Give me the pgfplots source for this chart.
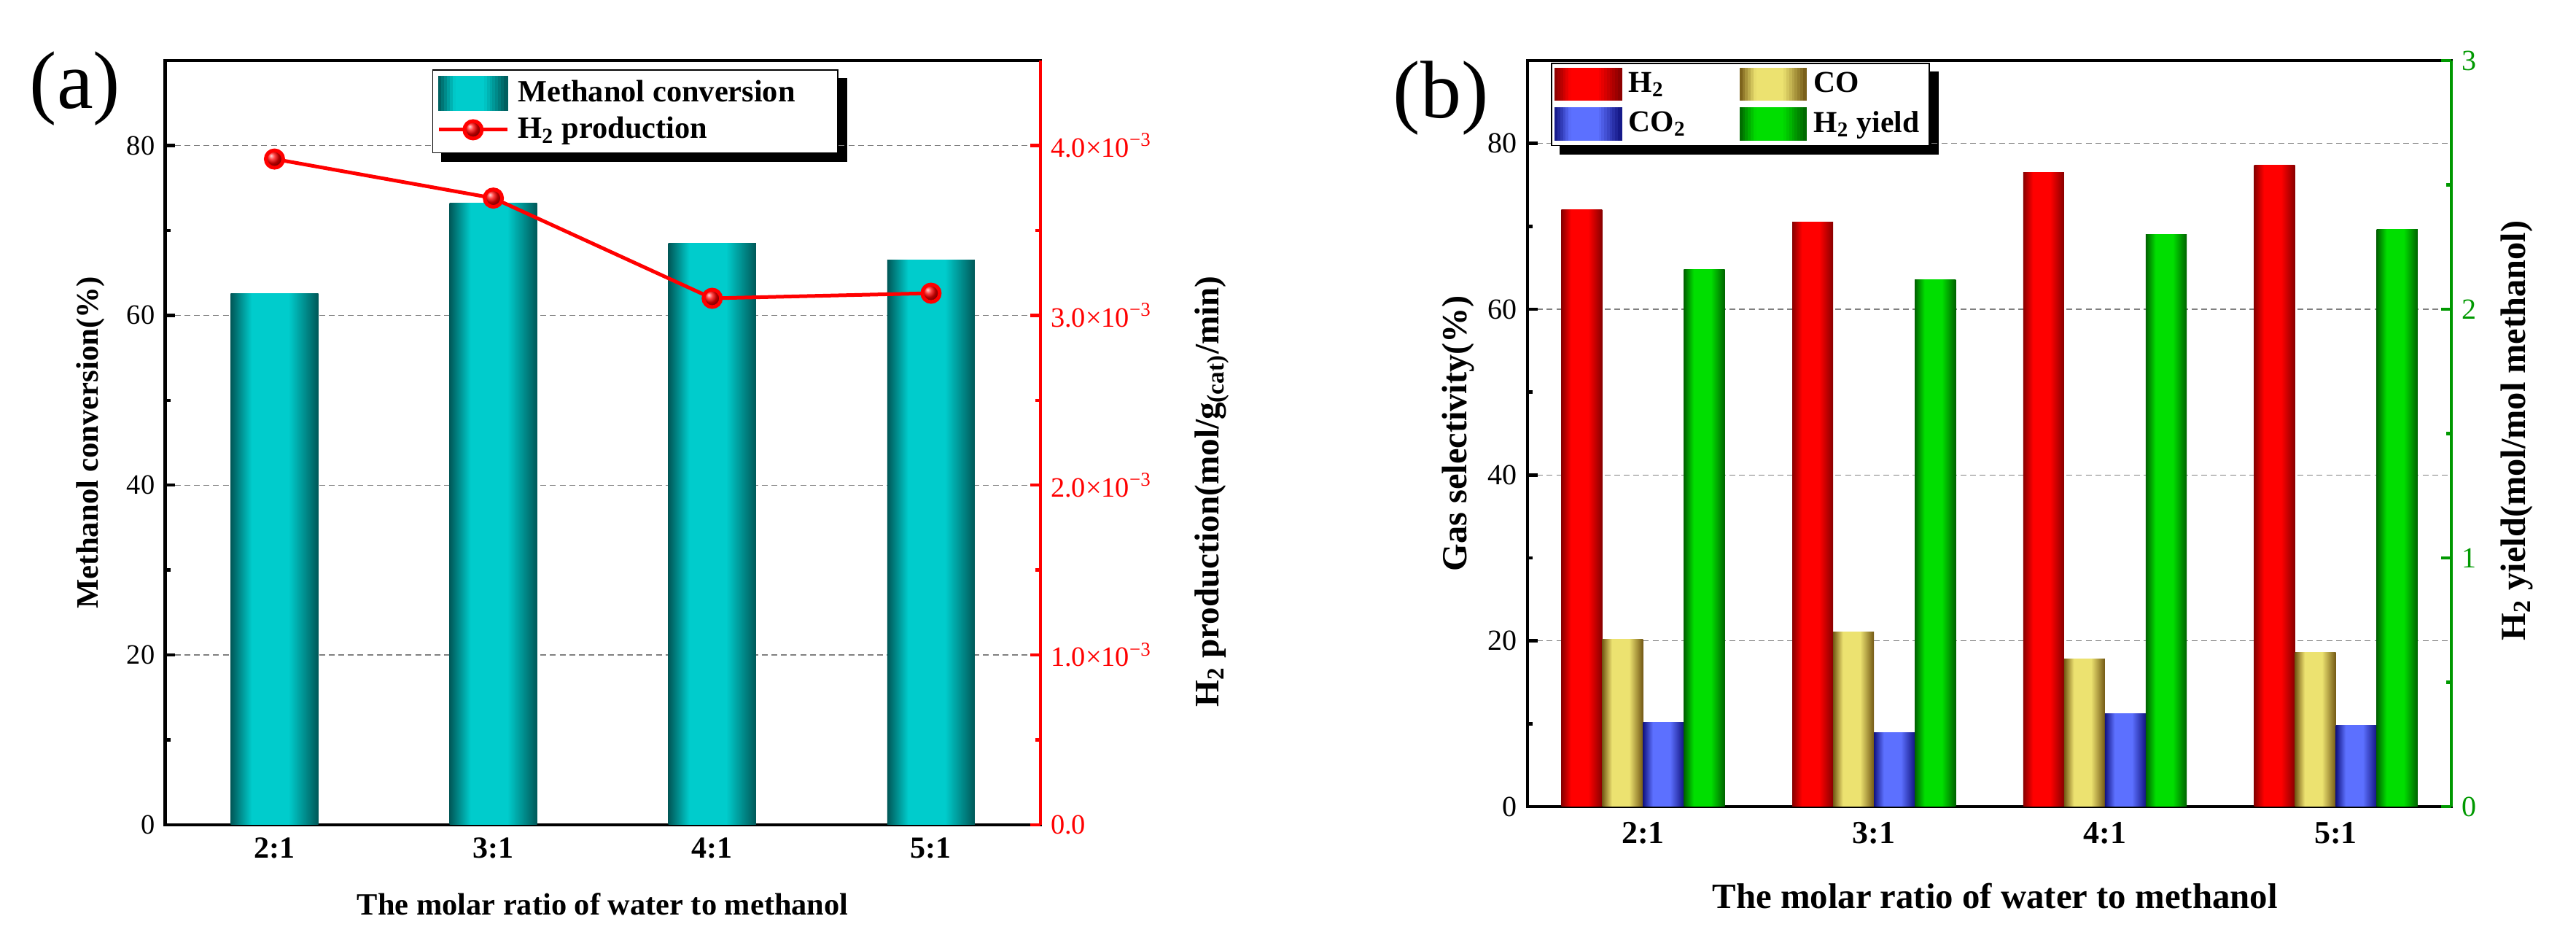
\documentclass[border=0pt]{standalone}
\usepackage{fontspec}
\setmainfont{Liberation Serif}
\usepackage{pgfplots}
\pgfplotsset{compat=1.18}

\pgfdeclarelayer{shadowlayer}
\pgfsetlayers{shadowlayer,main}

\definecolor{tealD}{RGB}{0,88,88}
\definecolor{tealL}{RGB}{0,204,204}
\definecolor{redD}{RGB}{135,0,0}
\definecolor{redL}{RGB}{255,0,0}
\definecolor{yelD}{RGB}{115,88,20}
\definecolor{yelL}{RGB}{236,226,112}
\definecolor{bluD}{RGB}{18,20,130}
\definecolor{bluL}{RGB}{92,112,255}
\definecolor{grnD}{RGB}{0,98,0}
\definecolor{grnL}{RGB}{0,222,0}
\definecolor{axgreen}{RGB}{0,153,0}

\pgfdeclarehorizontalshading{shTeal}{100bp}{color(0bp)=(tealD); color(25bp)=(tealD); color(37bp)=(tealL); color(58bp)=(tealL); color(75bp)=(tealD); color(100bp)=(tealD)}
\pgfdeclarehorizontalshading{shRed}{100bp}{color(0bp)=(redD); color(25bp)=(redD); color(37bp)=(redL); color(58bp)=(redL); color(75bp)=(redD); color(100bp)=(redD)}
\pgfdeclarehorizontalshading{shYel}{100bp}{color(0bp)=(yelD); color(25bp)=(yelD); color(37bp)=(yelL); color(58bp)=(yelL); color(75bp)=(yelD); color(100bp)=(yelD)}
\pgfdeclarehorizontalshading{shBlu}{100bp}{color(0bp)=(bluD); color(25bp)=(bluD); color(37bp)=(bluL); color(58bp)=(bluL); color(75bp)=(bluD); color(100bp)=(bluD)}
\pgfdeclarehorizontalshading{shGrn}{100bp}{color(0bp)=(grnD); color(25bp)=(grnD); color(37bp)=(grnL); color(58bp)=(grnL); color(75bp)=(grnD); color(100bp)=(grnD)}

\newcommand{\fsz}[1]{\fontsize{#1}{#1}\selectfont}
% gradient rectangle for legend images: dark, light, width, height
\newcommand{\gradrect}[4]{%
  \foreach \i in {0,...,23}{%
    \pgfmathsetmacro\f{(\i+0.5)/24}%
    \pgfmathsetmacro\d{\f<0.24 ? 100*(1-\f/0.24) : (\f>0.66 ? 100*(\f-0.66)/0.34 : 0)}%
    \fill[#1!\d!#2] ({#3*\i/24},{-#4/2}) rectangle ({#3*(\i+1)/24+0.08pt},{#4/2});
  }}

\pgfplotsset{
  gb/.style={draw=none, shade, shading=#1, shading angle=0, forget plot},
  common/.style={scale only axis, tick align=inside, major tick length=3.5pt, minor tick length=1.8pt,
    /pgf/number format/assume math mode=true},
}

\begin{document}
\begin{tikzpicture}
\useasboundingbox (0,0) rectangle (883.25pt,323.25pt);

% ---------------- panel (a) ----------------
\begin{axis}[common, at={(56.6pt,40.5pt)}, anchor=south west, width=300.15pt, height=262pt,
  xmin=0.5, xmax=4.5, ymin=0, ymax=90,
  xtick={1,2,3,4}, xticklabels={2:1,3:1,4:1,5:1}, xtick style={draw=none},
  xticklabel style={font=\bfseries\fsz{10.5}, anchor=center, yshift=-8pt},
  ytick={0,20,40,60,80}, minor ytick={10,30,50,70}, ytick pos=left,
  yticklabel style={font=\fsz{9.6}},
  ymajorgrids, major grid style={gray, line width=0.35pt, dash pattern=on 2pt off 1.3pt},
  axis line style={line width=1.2pt}, tick style={line width=1.1pt, black},
  xlabel={The molar ratio of water to methanol},
  xlabel style={font=\bfseries\fsz{10.6}, at={(axis description cs:0.5,-0.104)}, anchor=center},
  ylabel={Methanol conversion(\%)},
  ylabel style={font=\bfseries\fsz{10.7}, at={(axis description cs:-0.0853,0.5)}, anchor=center},
  legend style={name=legA, at={(axis description cs:0.305,0.9885)}, anchor=north west, draw=black, line width=0.4pt,
    fill=white, inner xsep=1.5pt, inner ysep=2pt, font=\bfseries\fsz{10.6}, row sep=0.5pt,
    nodes={inner xsep=3pt, inner ysep=1.5pt}},
  legend cell align=left,
]
\addplot[ybar, bar width=0.4, bar shift=0, gb=shTeal] coordinates {(1,62.6)};
\addplot[ybar, bar width=0.4, bar shift=0, gb=shTeal] coordinates {(2,73.2)};
\addplot[ybar, bar width=0.4, bar shift=0, gb=shTeal] coordinates {(3,68.5)};
\addplot[ybar, bar width=0.4, bar shift=0, gb=shTeal] coordinates {(4,66.5)};
\addlegendimage{legend image code/.code={\gradrect{tealD}{tealL}{23.5pt}{11.7pt}}}
\addlegendentry{Methanol conversion\hspace*{10pt}}
\addlegendimage{legend image code/.code={\draw[red, line width=1.25pt, mark=ball, mark size=3pt, mark options={ball color=red}, mark repeat=2, mark phase=2] plot coordinates {(0pt,0pt) (11.75pt,0pt) (23.5pt,0pt)};}}
\addlegendentry{H\textsubscript{2} production}
\end{axis}

\begin{axis}[common, at={(56.6pt,40.5pt)}, anchor=south west, width=300.15pt, height=262pt,
  xmin=0.5, xmax=4.5, ymin=0, ymax=0.0045,
  axis x line=none, axis y line*=right,
  y axis line style={red, line width=1.2pt},
  ytick={0,0.001,0.002,0.003,0.004},
  yticklabels={0.0,{1.0×10\textsuperscript{−3}},{2.0×10\textsuperscript{−3}},{3.0×10\textsuperscript{−3}},{4.0×10\textsuperscript{−3}}},
  minor ytick={0.0005,0.0015,0.0025,0.0035},
  scaled y ticks=false, ytick style={red, line width=1.1pt},
  yticklabel style={red, font=\fsz{9.6}},
  ylabel={H\textsubscript{2} production(mol/g\textsubscript{(cat)}/min)},
  ylabel style={font=\bfseries\fsz{11.8}, at={(axis description cs:1.1957,0.436)}, anchor=center},
]
\addplot[red, line width=1.25pt, mark=ball, mark size=3pt, mark options={ball color=red}] coordinates {
  (1,0.00392) (2,0.00369) (3,0.00310) (4,0.00313)};
\end{axis}

\begin{pgfonlayer}{shadowlayer}
\fill[black] ([shift={(3pt,-3pt)}]legA.south west) rectangle ([shift={(3pt,-3pt)}]legA.north east);
\end{pgfonlayer}

\node[font=\fsz{28}] at (25.75pt,292.75pt) {(a)};

% ---------------- panel (b) ----------------
\begin{axis}[common, at={(523.75pt,46.75pt)}, anchor=south west, width=316.75pt, height=255.75pt,
  xmin=0.5, xmax=4.5, ymin=0, ymax=90,
  xtick={1,2,3,4}, xticklabels={2:1,3:1,4:1,5:1}, xtick style={draw=none},
  xticklabel style={font=\bfseries\fsz{11}, anchor=center, yshift=-9pt},
  ytick={0,20,40,60,80}, minor ytick={10,30,50,70}, ytick pos=left,
  yticklabel style={font=\fsz{10}},
  ymajorgrids, major grid style={gray, line width=0.35pt, dash pattern=on 2pt off 1.3pt},
  axis line style={line width=1.2pt}, tick style={line width=1.1pt, black},
  xlabel={The molar ratio of water to methanol},
  xlabel style={font=\bfseries\fsz{12.2}, at={(axis description cs:0.506,-0.120)}, anchor=center},
  ylabel={Gas selectivity(\%)},
  ylabel style={font=\bfseries\fsz{12.1}, at={(axis description cs:-0.075,0.5)}, anchor=center},
  legend columns=2,
  legend style={name=legB, at={(axis description cs:0.0253,0.997)}, anchor=north west, draw=black, line width=0.4pt,
    fill=white, inner xsep=1.1pt, inner ysep=1.5pt, font=\bfseries\fsz{10.4}, row sep=2pt,
    nodes={inner xsep=2.3pt, inner ysep=1.5pt},
    /tikz/every even column/.append style={column sep=16pt}},
  legend cell align=left,
]
% H2 selectivity
\addplot[ybar, bar width=0.177, bar shift=-0.2655, gb=shRed] coordinates {(1,72.0)};
\addplot[ybar, bar width=0.177, bar shift=-0.2655, gb=shRed] coordinates {(2,70.5)};
\addplot[ybar, bar width=0.177, bar shift=-0.2655, gb=shRed] coordinates {(3,76.5)};
\addplot[ybar, bar width=0.177, bar shift=-0.2655, gb=shRed] coordinates {(4,77.4)};
% CO selectivity
\addplot[ybar, bar width=0.177, bar shift=-0.0885, gb=shYel] coordinates {(1,20.2)};
\addplot[ybar, bar width=0.177, bar shift=-0.0885, gb=shYel] coordinates {(2,21.1)};
\addplot[ybar, bar width=0.177, bar shift=-0.0885, gb=shYel] coordinates {(3,17.8)};
\addplot[ybar, bar width=0.177, bar shift=-0.0885, gb=shYel] coordinates {(4,18.6)};
% CO2 selectivity
\addplot[ybar, bar width=0.177, bar shift=0.0885, gb=shBlu] coordinates {(1,10.2)};
\addplot[ybar, bar width=0.177, bar shift=0.0885, gb=shBlu] coordinates {(2,8.9)};
\addplot[ybar, bar width=0.177, bar shift=0.0885, gb=shBlu] coordinates {(3,11.2)};
\addplot[ybar, bar width=0.177, bar shift=0.0885, gb=shBlu] coordinates {(4,9.8)};
\addlegendimage{legend image code/.code={\gradrect{redD}{redL}{22.6pt}{11pt}}}
\addlegendentry{H\textsubscript{2}}
\addlegendimage{legend image code/.code={\gradrect{yelD}{yelL}{22.6pt}{11pt}}}
\addlegendentry{CO}
\addlegendimage{legend image code/.code={\gradrect{bluD}{bluL}{22.6pt}{11pt}}}
\addlegendentry{CO\textsubscript{2}}
\addlegendimage{legend image code/.code={\gradrect{grnD}{grnL}{22.6pt}{11pt}}}
\addlegendentry{H\textsubscript{2} yield}
\end{axis}

\begin{axis}[common, at={(523.75pt,46.75pt)}, anchor=south west, width=316.75pt, height=255.75pt,
  xmin=0.5, xmax=4.5, ymin=0, ymax=3,
  axis x line=none, axis y line*=right,
  y axis line style={axgreen, line width=1.2pt},
  ytick={0,1,2,3}, minor ytick={0.5,1.5,2.5},
  ytick style={axgreen, line width=1.1pt},
  yticklabel style={axgreen, font=\fsz{10}},
  ylabel={H\textsubscript{2} yield(mol/mol methanol)},
  ylabel style={font=\bfseries\fsz{12.1}, at={(axis description cs:1.071,0.504)}, anchor=center},
]
% H2 yield
\addplot[ybar, bar width=0.177, bar shift=0.2655, gb=shGrn] coordinates {(1,2.16)};
\addplot[ybar, bar width=0.177, bar shift=0.2655, gb=shGrn] coordinates {(2,2.12)};
\addplot[ybar, bar width=0.177, bar shift=0.2655, gb=shGrn] coordinates {(3,2.30)};
\addplot[ybar, bar width=0.177, bar shift=0.2655, gb=shGrn] coordinates {(4,2.32)};
\end{axis}

\begin{pgfonlayer}{shadowlayer}
\fill[black] ([shift={(3pt,-3pt)}]legB.south west) rectangle ([shift={(3pt,-3pt)}]legB.north east);
\end{pgfonlayer}

\node[font=\fsz{28}] at (494pt,289.5pt) {(b)};
\end{tikzpicture}
\end{document}
